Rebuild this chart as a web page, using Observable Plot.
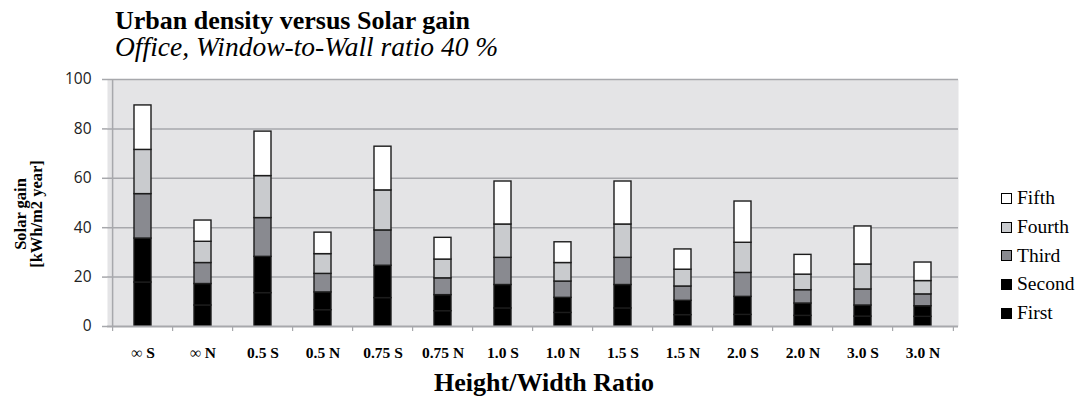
<!DOCTYPE html>
<html>
<head>
<meta charset="utf-8">
<script src="https://cdn.jsdelivr.net/npm/d3@7"></script>
<script src="https://cdn.jsdelivr.net/npm/@observablehq/plot@0.6"></script>
<style>
  html, body { margin: 0; padding: 0; background: #fff; }
  #wrap { position: relative; width: 1082px; height: 399px; overflow: hidden; background: #fff; }
  #chart { position: absolute; left: 0; top: 0; }
  .title { position: absolute; left: 115px; top: 8px; font: bold 26px "Liberation Serif", serif; color: #000; white-space: nowrap; line-height: 26px; }
  .subtitle { position: absolute; left: 115px; top: 34px; font: italic 27.5px "Liberation Serif", serif; color: #000; white-space: nowrap; line-height: 26px; }
  .ytitle { position: absolute; left: 28px; top: 214px; transform: translate(-50%, -50%) rotate(-90deg); font: bold 16.5px/15.5px "Liberation Serif", serif; text-align: center; white-space: nowrap; color: #000; }
  .xtitle { position: absolute; left: 544px; top: 368px; transform: translateX(-50%); font: bold 26px "Liberation Serif", serif; white-space: nowrap; color: #000; }
  .legend { position: absolute; left: 1001px; top: 184px; font: 19.5px "Liberation Serif", serif; color: #000; }
  .legend .item { height: 28.7px; display: flex; align-items: center; white-space: nowrap; }
  .legend .sw { width: 9px; height: 9px; border: 1.2px solid #000; margin-right: 5px; box-sizing: content-box; }
</style>
</head>
<body>
<div id="wrap">
  <div id="chart"></div>
  <div class="title">Urban density versus Solar gain</div>
  <div class="subtitle">Office, Window-to-Wall ratio 40 %</div>
  <div class="ytitle">Solar gain<br>[kWh/m2 year]</div>
  <div class="xtitle">Height/Width Ratio</div>
  <div class="legend" id="legend"></div>
</div>
<script>
const categories = ["∞ S", "∞ N", "0.5 S", "0.5 N", "0.75 S", "0.75 N", "1.0 S", "1.0 N", "1.5 S", "1.5 N", "2.0 S", "2.0 N", "3.0 S", "3.0 N"];
const seriesNames = ["First", "Second", "Third", "Fourth", "Fifth"];
const first  = [17.8, 8.5, 13.5, 6.6, 11.5, 6.2, 7.3, 5.5, 7.3, 4.6, 4.7, 4.3, 4.0, 3.9];
const second = [17.8, 8.7, 14.7, 7.2, 13.1, 6.5, 9.5, 6.1, 9.5, 5.8, 7.3, 5.0, 4.5, 4.3];
const third  = [18.0, 8.5, 15.7, 7.5, 14.3, 6.8, 11.0, 6.6, 11.0, 5.8, 9.7, 5.4, 6.5, 4.8];
const fourth = [17.9, 8.6, 17.0, 8.0, 16.2, 7.6, 13.5, 7.5, 13.5, 6.8, 12.2, 6.3, 10.1, 5.4];
const fifth  = [18.0, 8.6, 18.0, 8.7, 17.7, 8.8, 17.4, 8.4, 17.4, 8.2, 16.7, 8.0, 15.4, 7.5];
const yTicks = [0, 20, 40, 60, 80, 100];
const colors = ["#000000", "#000000", "#898a90", "#c9cbce", "#ffffff"];

const seriesValues = [first, second, third, fourth, fifth];
const data = [];
seriesNames.forEach((s, si) => {
  categories.forEach((c, ci) => data.push({cat: c, series: s, value: seriesValues[si][ci]}));
});

const W = 1082, H = 399;
const mL = 107, mR = 124, mT = 79, mB = 73;
const step = (W - mL - mR) / categories.length;
const grid = "#a7a8ac";

const chart = Plot.plot({
  width: W, height: H,
  marginLeft: mL, marginRight: mR, marginTop: mT, marginBottom: mB,
  style: {background: "transparent", overflow: "visible"},
  x: {type: "band", domain: categories, paddingInner: 0.71, paddingOuter: 0.355, axis: null, label: null},
  y: {domain: [0, 100], axis: null, label: null},
  color: {domain: seriesNames, range: colors},
  marks: [
    Plot.frame({fill: "#e4e4e6", stroke: "none"}),
    Plot.gridY(yTicks.filter(d => d > 0), {stroke: grid, strokeOpacity: 1, strokeWidth: 1.5}),
    Plot.ruleX([categories[0]], {dx: -step / 2, y1: 0, y2: 100, stroke: grid, strokeWidth: 1.5}),
    Plot.axisY({ticks: yTicks, tickSize: 5, tickPadding: 11, stroke: grid, strokeWidth: 1.5, label: null,
      fontSize: 15.5, fontFamily: "Open Sans, sans-serif", fill: "#222", tickFormat: d => d}),
    Plot.axisX({ticks: categories, tickSize: 5, dx: -step / 2, stroke: grid, strokeWidth: 1.2, label: null, tickFormat: () => ""}),
    Plot.axisX({ticks: [categories[categories.length - 1]], tickSize: 5, dx: step / 2, stroke: grid, strokeWidth: 1.2, label: null, tickFormat: () => ""}),
    Plot.axisX({ticks: categories, tickSize: 0, tickPadding: 20, fontSize: 15.5, fontWeight: "bold", label: null,
      fontFamily: "Liberation Serif, serif", fill: "#000"}),
    Plot.barY(data, Plot.stackY({order: seriesNames}, {x: "cat", y: "value", z: "series", fill: "series",
      stroke: "#1c1c1c", strokeWidth: 1.4})),
    Plot.ruleY([0], {stroke: grid, strokeWidth: 2})
  ]
});
document.getElementById("chart").appendChild(chart);

const legend = document.getElementById("legend");
[...seriesNames].reverse().forEach(s => {
  const item = document.createElement("div");
  item.className = "item";
  const sw = document.createElement("div");
  sw.className = "sw";
  sw.style.background = colors[seriesNames.indexOf(s)];
  const t = document.createElement("span");
  t.textContent = s;
  item.appendChild(sw);
  item.appendChild(t);
  legend.appendChild(item);
});
</script>
</body>
</html>
